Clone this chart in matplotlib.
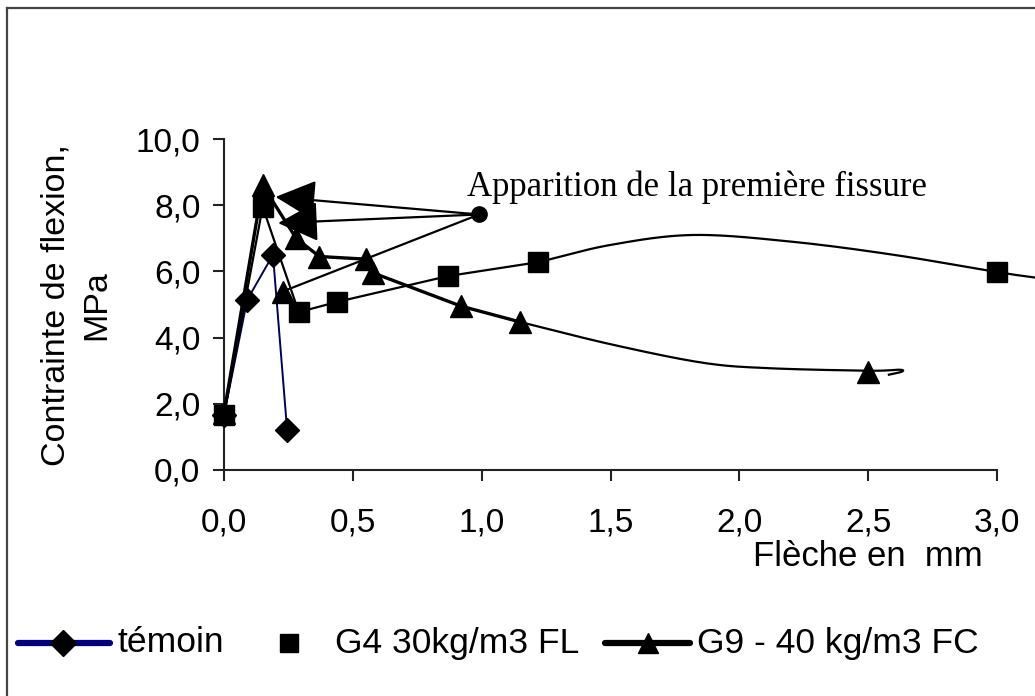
import numpy as np
import matplotlib
matplotlib.use("Agg")
import matplotlib.pyplot as plt
from matplotlib.lines import Line2D

plt.rcParams['font.family'] = ['Liberation Sans', 'DejaVu Sans']

# témoin
temoin_x = [0.0, 0.09, 0.19, 0.245]
temoin_y = [1.66, 5.14, 6.50, 1.20]

# G4 30kg/m3 FL
g4_x = [0.0, 0.15, 0.29, 0.44, 0.87, 1.22, 3.0]
g4_y = [1.66, 7.95, 4.77, 5.08, 5.86, 6.28, 5.98]

# G9 - 40 kg/m3 FC
g9_x = [0.0, 0.15, 0.23, 0.28, 0.37, 0.55, 0.58, 0.92, 1.15, 2.50]
g9_y = [1.72, 8.60, 5.38, 7.00, 6.45, 6.37, 5.95, 4.95, 4.47, 2.96]
g9_joined = [0, 1, 3, 4, 5, 6, 7, 8]   # points joined by straight segments

# hand drawn trend curves
g4_curve_x = [1.22, 1.50, 1.82, 2.20, 2.60, 3.00, 3.16]
g4_curve_y = [6.28, 6.80, 7.10, 6.90, 6.50, 5.98, 5.80]
g9_curve_x = [1.15, 1.50, 1.85, 2.10, 2.50, 2.62, 2.63, 2.58]
g9_curve_y = [4.47, 3.80, 3.25, 3.08, 3.00, 3.03, 2.97, 2.88]

# "première fissure" annotation
crack_x, crack_y = 0.99, 7.72
arrow_x = [0.20, 0.21, 0.23]
arrow_y = [8.25, 7.46, 5.40]

xticks = [0.0, 0.5, 1.0, 1.5, 2.0, 2.5, 3.0]
yticks = [0, 2, 4, 6, 8, 10]


def smooth(xs, ys, sx=258.0, sy=33.0, n=24):
    # Catmull-Rom through the read points, in screen-like units
    p = np.column_stack([np.asarray(xs) * sx, np.asarray(ys) * sy])
    p = np.vstack([2 * p[0] - p[1], p, 2 * p[-1] - p[-2]])
    t = np.linspace(0, 1, n, endpoint=False)[:, None]
    out = []
    for i in range(1, len(p) - 2):
        p0, p1, p2, p3 = p[i - 1], p[i], p[i + 1], p[i + 2]
        out.append(0.5 * (2 * p1 + (p2 - p0) * t
                          + (2 * p0 - 5 * p1 + 4 * p2 - p3) * t ** 2
                          + (3 * p1 - p0 - 3 * p2 + p3) * t ** 3))
    out.append(p[-2][None])
    out = np.vstack(out)
    return out[:, 0] / sx, out[:, 1] / sy


W, H = 1035, 696
fig = plt.figure(figsize=(W / 100, H / 100), dpi=100)
ax = fig.add_axes([224 / W, (H - 470) / H, (W - 224) / W, (470 - 139) / H])
ax.set_xlim(0, (W - 224) / 257.7)
ax.set_ylim(0, 10)

lw = 1.6
# témoin
ax.plot(temoin_x, temoin_y, color='#000060', lw=1.4, zorder=3, clip_on=False)
ax.plot(temoin_x, temoin_y, ls='none', marker='D', ms=12.5, color='black', zorder=6, clip_on=False)

# G4
ax.plot(g4_x[:6], g4_y[:6], color='black', lw=lw, zorder=3, clip_on=False)
cx, cy = smooth(g4_curve_x, g4_curve_y)
ax.plot(cx, cy, color='black', lw=lw, zorder=3)
ax.plot(g4_x, g4_y, ls='none', marker='s', ms=14, color='black', zorder=5, clip_on=False)

# G9
gx = [g9_x[i] for i in g9_joined]
gy = [g9_y[i] for i in g9_joined]
ax.plot(gx, gy, color='black', lw=lw + 0.8, zorder=3, clip_on=False)
cx, cy = smooth(g9_curve_x, g9_curve_y)
ax.plot(cx, cy, color='black', lw=lw, zorder=3)
ax.plot(g9_x, g9_y, ls='none', marker='^', ms=16, color='black', zorder=5, clip_on=False)

# annotation
ax.plot([crack_x], [crack_y], marker='o', ms=11, color='black', zorder=6)
for k, (ax_, ay_) in enumerate(zip(arrow_x, arrow_y)):
    style = '-|>,head_length=1.2,head_width=0.6' if k < 2 else '-'
    ax.annotate('', xy=(ax_, ay_), xytext=(crack_x, crack_y),
                arrowprops=dict(arrowstyle=style, color='black', lw=lw,
                                mutation_scale=21, shrinkA=0, shrinkB=0),
                zorder=4)
ax.text(0.943, 8.55, 'Apparition de la première fissure', family=['Liberation Serif'],
        fontsize=25, ha='left', va='center', color='black')

# axes styling
for s in ['top', 'right']:
    ax.spines[s].set_visible(False)
for s in ['left', 'bottom']:
    ax.spines[s].set_linewidth(1.5)
    ax.spines[s].set_color('#222222')
ax.spines['bottom'].set_bounds(0, 3)
ax.set_xticks(xticks)
ax.set_xticklabels([f'{v:.1f}'.replace('.', ',') for v in xticks])
ax.set_yticks(yticks)
ax.set_yticklabels([f'{v:.1f}'.replace('.', ',') for v in yticks])
ax.tick_params(axis='both', direction='out', length=8, width=1.5, color='#222222',
               labelsize=24)
ax.tick_params(axis='x', pad=19)
ax.tick_params(axis='y', pad=9)
ax.patch.set_alpha(0)

fig.text(868 / W, 1 - 557 / H, 'Flèche en  mm', fontsize=25, ha='center', va='center')
fig.text(76 / W, 1 - 305 / H, 'Contrainte de flexion,\nMPa', fontsize=24.5, rotation=90,
         ha='center', va='center', multialignment='center', linespacing=1.4)

# legend, drawn by hand
ly = 1 - 643 / H
fig.add_artist(Line2D([18 / W, 110 / W], [ly, ly], color='#000080', lw=4.5,
                      solid_capstyle='round'))
fig.add_artist(Line2D([63 / W], [ly], marker='D', ms=13, color='black', ls='none'))
fig.text(117 / W, ly, 'témoin', fontsize=25.5, ha='left', va='center')
fig.add_artist(Line2D([289 / W], [ly], marker='s', ms=13, color='black', ls='none'))
fig.text(335 / W, ly, 'G4 30kg/m3 FL', fontsize=25.5, ha='left', va='center')
fig.add_artist(Line2D([605 / W, 690 / W], [ly, ly], color='black', lw=4.5,
                      solid_capstyle='round'))
fig.add_artist(Line2D([648 / W], [ly], marker='^', ms=15, color='black', ls='none'))
fig.text(697 / W, ly, 'G9 - 40 kg/m3 FC', fontsize=25.5, ha='left', va='center')

# outer frame (cut on the right and bottom)
fig.add_artist(Line2D([7 / W, 7 / W], [0, 1 - 8 / H], color='#444444', lw=1.6))
fig.add_artist(Line2D([7 / W, 1], [1 - 8 / H, 1 - 8 / H], color='#444444', lw=1.6))

fig.savefig('out.png', dpi=100)
